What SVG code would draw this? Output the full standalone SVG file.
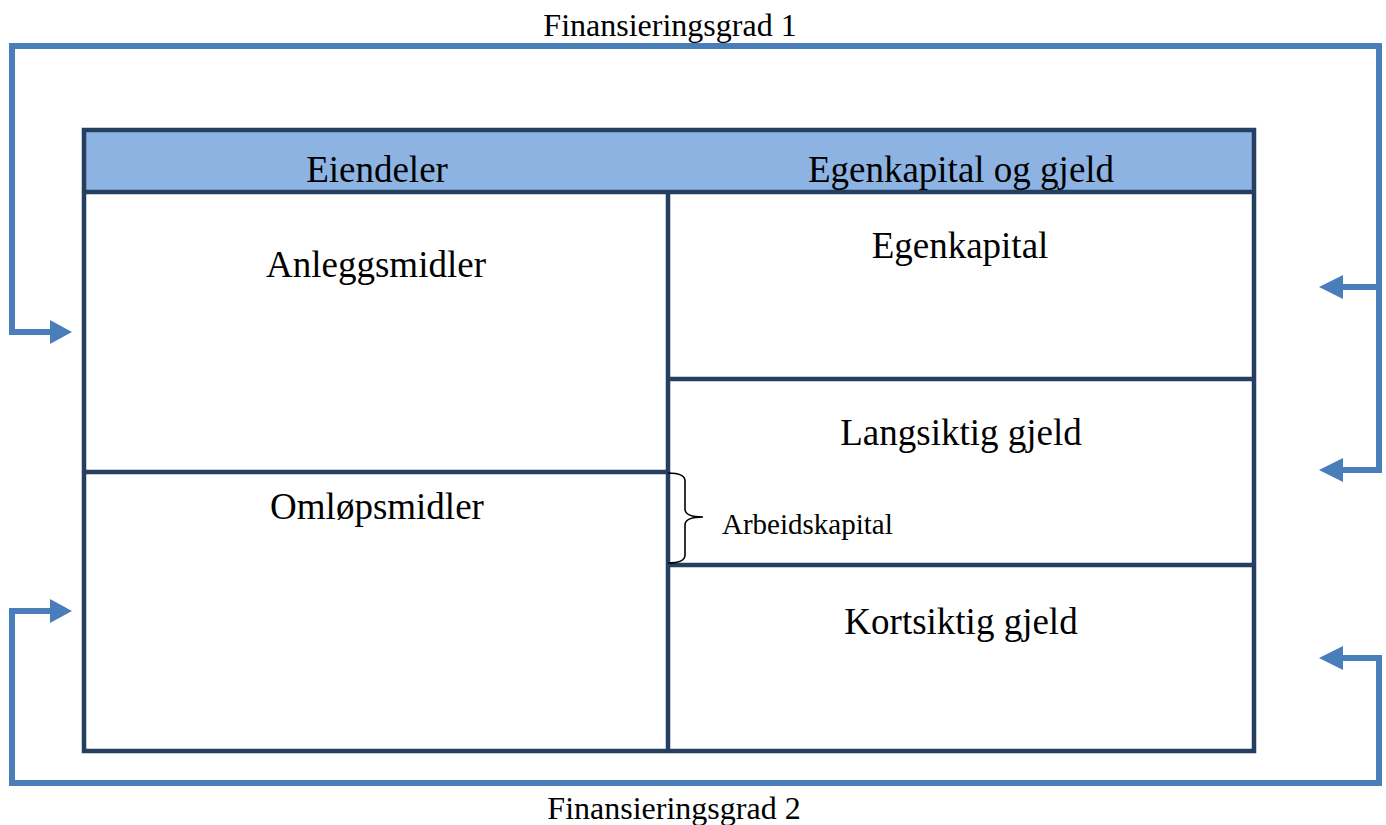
<svg xmlns="http://www.w3.org/2000/svg" width="1386" height="825" viewBox="0 0 1386 825">
<style>
.t{font-family:"Liberation Serif","Times New Roman",serif;fill:#000;text-anchor:middle}
.big{font-size:37px}
.fin{font-size:32px}
.small{font-size:29px;text-anchor:start}
.box{fill:none;stroke:#243F60;stroke-width:4.5}
.conn{fill:none;stroke:#4A7EBB;stroke-width:6;stroke-linejoin:miter}
.head{fill:#4A7EBB}
</style>
<rect width="1386" height="825" fill="#fff"/>
<g id="balance">
<rect x="84" y="130" width="1170" height="62" fill="#8DB3E2" stroke="none"/>
<rect class="box" x="84" y="130" width="1170" height="621"/>
<line class="box" x1="84" y1="192" x2="1254" y2="192"/>
<line class="box" x1="668" y1="192" x2="668" y2="751"/>
</g>
<g id="header-eiendeler"><text class="t big" x="377" y="182">Eiendeler</text></g>
<g id="header-egenkapital-og-gjeld"><text class="t big" x="961" y="182">Egenkapital og gjeld</text></g>
<g id="anleggsmidler"><text class="t big" x="376" y="277">Anleggsmidler</text></g>
<g id="omlopsmidler">
<line class="box" x1="84" y1="472" x2="668" y2="472"/>
<text class="t big" x="377" y="519">Omløpsmidler</text>
</g>
<g id="egenkapital"><text class="t big" x="960" y="258">Egenkapital</text></g>
<g id="langsiktig-gjeld">
<line class="box" x1="668" y1="379" x2="1254" y2="379"/>
<text class="t big" x="961" y="445">Langsiktig gjeld</text>
</g>
<g id="kortsiktig-gjeld">
<line class="box" x1="668" y1="565" x2="1254" y2="565"/>
<text class="t big" x="961" y="634">Kortsiktig gjeld</text>
</g>
<g id="arbeidskapital">
<path d="M668,473 Q685,473 685,481 L685,509 Q685,517 703,517 Q685,517 685,525 L685,555 Q685,563 668,563" fill="none" stroke="#000" stroke-width="1.6"/>
<text class="t small" x="722" y="534">Arbeidskapital</text>
</g>
<g id="connectors">
<polyline class="conn" points="51,332 12,332 12,46 1379,46 1379,470 1343,470"/>
<line class="conn" x1="1379" y1="287" x2="1343" y2="287"/>
<polygon class="head" points="50,320 72,332 50,344"/>
<polygon class="head" points="1343,275 1319,287 1343,299"/>
<polygon class="head" points="1343,458 1319,470 1343,482"/>
<polyline class="conn" points="51,611 12,611 12,783 1379,783 1379,658 1343,658"/>
<polygon class="head" points="50,599 72,611 50,623"/>
<polygon class="head" points="1343,646 1319,658 1343,670"/>
</g>
<g id="labels">
<text class="t fin" x="670" y="36">Finansieringsgrad 1</text>
<text class="t fin" x="674" y="819">Finansieringsgrad 2</text>
</g>
</svg>
